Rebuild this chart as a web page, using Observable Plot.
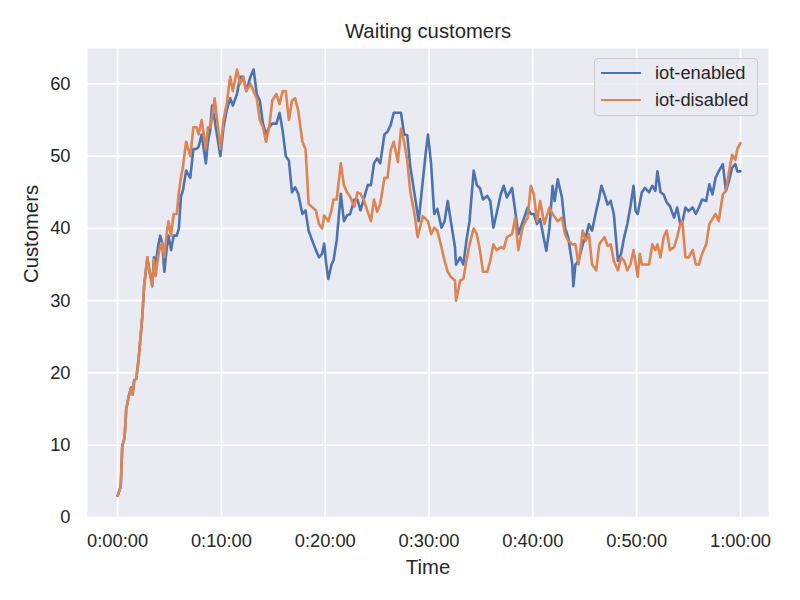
<!DOCTYPE html>
<html>
<head>
<meta charset="utf-8">
<script src="https://cdn.jsdelivr.net/npm/d3@7"></script>
<script src="https://cdn.jsdelivr.net/npm/@observablehq/plot@0.6"></script>
<style>
  html, body { margin: 0; padding: 0; background: white; }
  #wrap { position: relative; width: 800px; height: 600px; font-family: "Liberation Sans", Arial, sans-serif; color: #262626; }
  #legend { position: absolute; left: 594px; top: 58px; width: 164px; height: 58px;
    background: rgba(234,234,242,0.8); border: 1px solid #cccccc; border-radius: 4px; box-sizing: border-box; }
  .li { position: absolute; left: 0; height: 20px; display: flex; align-items: center; font-size: 18.3px; }
  .sw { width: 40px; height: 0; border-top: 2.5px solid; margin-left: 6px; margin-right: 14px; }
</style>
</head>
<body>
<div id="wrap">
  <div id="legend">
    <div class="li" style="top:4px"><span class="sw" style="border-color:#4C72B0"></span>iot-enabled</div>
    <div class="li" style="top:31px"><span class="sw" style="border-color:#DD8452"></span>iot-disabled</div>
  </div>
</div>
<script>
// Time in minutes, values in customers
const enabledT = [0,0.3,0.45,0.67,0.83,1.08,1.3,1.45,1.6,1.8,2.05,2.38,2.55,2.87,3.0,3.34,3.5,3.66,3.9,4.1,4.3,4.5,4.75,4.9,5.15,5.4,5.7,5.9,6.1,6.3,6.6,7.0,7.3,7.6,7.8,8.1,8.5,8.7,8.9,9.1,9.35,9.9,10.2,10.5,10.85,11.1,11.5,11.8,12.1,12.4,12.8,13.1,13.4,13.7,14.0,14.3,14.6,14.9,15.3,15.6,15.9,16.2,16.5,16.8,17.1,17.4,17.8,18.1,18.4,18.7,19.1,19.4,19.7,19.9,20.1,20.3,20.6,20.8,21.1,21.5,21.8,22.1,22.4,22.8,23.1,23.4,23.7,24.1,24.4,24.7,25.0,25.3,25.7,26.0,26.3,26.6,27.0,27.3,27.6,27.9,28.2,28.6,29.0,29.4,29.7,29.9,30.2,30.5,30.8,31.2,31.5,31.8,32.1,32.5,32.6,33.0,33.3,33.6,33.9,34.3,34.6,34.9,35.2,35.6,35.9,36.2,36.5,36.9,37.2,37.5,38.0,38.3,38.6,39.0,39.5,39.8,40.1,40.4,40.7,41.1,41.3,41.6,41.9,42.1,42.4,42.8,43.1,43.4,43.8,43.9,44.1,44.4,44.8,45.1,45.4,45.7,46.1,46.4,46.6,46.9,47.2,47.5,47.8,48.2,48.5,48.8,49.1,49.4,49.7,49.9,50.1,50.5,50.8,51.2,51.5,51.8,52.0,52.3,52.6,52.9,53.2,53.6,53.9,54.2,54.4,54.7,55.0,55.4,55.7,56.0,56.3,56.7,57.0,57.3,57.6,57.9,58.3,58.6,58.9,59.2,59.5,59.7,60.0];
const enabledV = [3,4.3,9.9,11,15,16.8,18,17,19,19.2,22.3,27.8,32,36,34.7,32,36,35,37.5,39,38,34,37.5,39,37,39,39,40,44.4,45.3,48,47,51,51,51.3,53,49,52,53.4,57,55,50,54,56.3,58,57,58.6,61,61,59,61,62,58.6,57.7,54.5,53,54,54.5,54.5,56,53.5,50,49.4,45,45.7,44.8,42,42.5,39.7,38.5,37,36,36.5,37.9,35,33,35,35.6,38.3,44.8,41,41.8,42,44,44,42.5,44,46,46,49,49.7,49,53,53.4,54.3,56,56,56,53,52.9,48.5,44.8,41,46.6,50.7,53,48.9,42,42.7,40.1,41,43.8,41,37.4,35,36,35,38.3,41,48,46,45.6,44,44.5,43.8,40.1,42,44.7,45.9,44.3,45.6,42.4,39.2,40.8,42.9,42,42,40.6,41.3,38.3,36.9,40.1,45.9,43.8,46.8,44.3,40.1,38.8,35,32,35,35.5,37.8,38.8,40.6,39.7,42.4,44.3,45.9,44.7,43.3,43.8,42,35.5,36.5,38.8,40.6,43,45.9,42.4,42,45,45.6,45,45.9,45.2,47.9,45,44.7,43.6,43.1,41.5,42.9,40.6,40.8,42.9,42.4,42.9,42,42.9,44,43.8,46.1,44.7,47,47.9,48.9,45.2,46.6,48.4,48.9,47.9,47.9];

const disabledT = [0,0.3,0.45,0.67,0.83,1.08,1.3,1.45,1.6,1.8,2.05,2.38,2.55,2.87,3.0,3.34,3.5,3.66,3.9,4.1,4.3,4.5,4.75,4.9,5.15,5.4,5.7,5.9,6.1,6.3,6.6,7.0,7.3,7.6,7.8,8.1,8.5,8.7,8.96,9.35,9.9,10.2,10.5,10.85,11.1,11.5,11.8,12.1,12.4,12.8,13.1,13.4,13.7,14.0,14.3,14.6,14.9,15.3,15.6,15.9,16.2,16.5,16.8,17.1,17.4,17.8,18.1,18.4,18.7,19.1,19.4,19.7,19.9,20.3,20.6,20.8,21.1,21.5,21.8,22.1,22.4,22.8,23.1,23.4,23.7,24.1,24.4,24.7,25.0,25.3,25.7,26.0,26.3,26.6,27.0,27.3,27.6,27.9,28.2,28.6,28.9,29.0,29.4,29.7,29.9,30.2,30.5,30.8,31.2,31.5,31.8,32.1,32.5,32.6,33.0,33.3,33.6,33.9,34.3,34.6,34.9,35.2,35.6,35.9,36.2,36.5,36.9,37.2,37.5,38.0,38.3,38.6,39.0,39.3,39.5,39.8,40.1,40.4,40.7,41.1,41.6,41.9,42.4,42.8,43.1,43.4,43.8,44.1,44.4,44.8,45.1,45.4,45.7,46.1,46.4,46.9,47.2,47.5,47.8,48.2,48.5,48.8,49.1,49.4,49.7,50.1,50.3,50.5,50.8,51.2,51.5,51.8,52.0,52.3,52.6,52.9,53.2,53.6,53.9,54.2,54.4,54.7,55.0,55.4,55.7,56.0,56.3,56.7,57.0,57.3,57.6,57.9,58.3,58.6,58.9,59.2,59.5,59.7,60.0];
const disabledV = [3,4.3,9.9,11,15,16.8,18,17,19,19.2,22.3,27.8,32,36,34.7,32,35.7,33.4,36,37.5,38,36,39.6,41,39,42,42,45,47,48.6,52,50,54,54,53,55,51,54,54,58,51,55,57.2,61,59,62,60,61,59,60,59,58,55,54,52,54,57.7,58.6,57.2,59,59,55,57.7,58,56.3,52,51,43.4,43,42.5,40.6,40,41.8,41,42.5,44,44,49,46,45,44.4,43,45,44.8,44,42.3,41,44,42.3,43.4,47,47,50.8,52,49.2,53.8,52,49.4,45,42,38.8,39.4,41.7,41.3,41,39.2,40.1,39.7,37.4,35.5,34,33.3,32.8,30,32.8,33,35.5,37.8,40,39.2,37,34,34,35.5,37.8,37,37.4,37.2,38.8,39.2,41.5,37,40.1,41,41.5,45.9,44.7,41,43.8,40.6,42.9,42,41,41.5,39.2,38.3,37.8,37.8,35,39.7,38.3,39.2,35,34.2,37.8,38.8,37.6,37.8,35.5,34.2,36,35.5,34.2,35,37,33.3,36.5,35,35,35,37.8,37,37.8,36,38.8,39.7,37,37.4,38.8,40.6,41,36,36,37,35,35,36.5,37.8,40.6,41.3,42,41,44.7,45.2,47.9,50.2,49.5,51,51.8];

const xTicks = [0, 10, 20, 30, 40, 50, 60];
const yTicks = [0, 10, 20, 30, 40, 50, 60];
const seriesNames = ["iot-enabled", "iot-disabled"];
const seriesColors = ["#4C72B0", "#DD8452"];

const enabled = enabledT.map((t, i) => ({t, v: enabledV[i]}));
const disabled = disabledT.map((t, i) => ({t, v: disabledV[i]}));

const fmt = m => `${Math.floor(m / 60)}:${String(m % 60).padStart(2, "0")}:00`;
const font = "Liberation Sans, Arial, sans-serif";

const chart = Plot.plot({
  width: 800,
  height: 600,
  marginLeft: 87,
  marginRight: 32,
  marginTop: 48,
  marginBottom: 83,
  style: {fontFamily: font, fontSize: "18.3px", color: "#262626", background: "white"},
  x: {domain: [-2.9, 62.7], ticks: xTicks, tickFormat: fmt, tickSize: 0, tickPadding: 16, label: null},
  y: {domain: [0, 64.9], ticks: yTicks, tickSize: 0, tickPadding: 17, label: null},
  marks: [
    Plot.frame({fill: "#EAEAF2", stroke: null}),
    Plot.ruleX(xTicks, {stroke: "white", strokeWidth: 1.7}),
    Plot.ruleY(yTicks, {stroke: "white", strokeWidth: 1.7}),
    Plot.line(enabled, {x: "t", y: "v", stroke: seriesColors[0], strokeWidth: 2.6}),
    Plot.line(disabled, {x: "t", y: "v", stroke: seriesColors[1], strokeWidth: 2.6}),
    Plot.text(["Waiting customers"], {frameAnchor: "top", lineAnchor: "middle", dy: -17, fontSize: 20.3, fill: "#262626"}),
    Plot.text(["Time"], {frameAnchor: "bottom", lineAnchor: "middle", dy: 50, fontSize: 20.3, fill: "#262626"}),
    Plot.text(["Customers"], {frameAnchor: "left", lineAnchor: "middle", dx: -56, rotate: -90, fontSize: 20.3, fill: "#262626"})
  ]
});
document.getElementById("wrap").prepend(chart);
</script>
</body>
</html>
